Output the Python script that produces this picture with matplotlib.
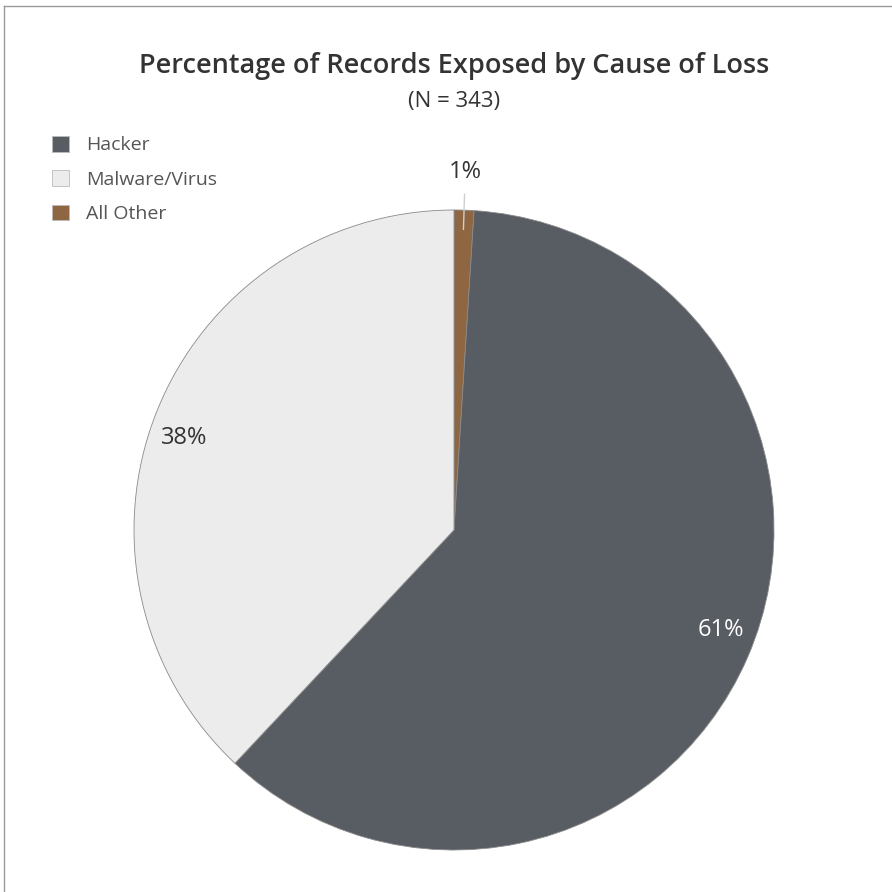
import numpy as np
import matplotlib
matplotlib.use("Agg")
import matplotlib.pyplot as plt
from matplotlib.patches import Patch
from matplotlib.lines import Line2D

labels = ["All Other", "Hacker", "Malware/Virus"]
values = [1, 61, 38]
colors = ["#8E6641", "#585C63", "#EBECEB"]
legend_order = ["Hacker", "Malware/Virus", "All Other"]
title = "Percentage of Records Exposed by Cause of Loss"
subtitle = "(N = 343)"

plt.rcParams['font.family'] = ['Open Sans', 'DejaVu Sans']

W = H = 892
fig = plt.figure(figsize=(8.92, 8.92), dpi=100)
ax = fig.add_axes([0, 0, 1, 1])
ax.set_xlim(0, W)
ax.set_ylim(0, H)
ax.axis('off')

cx, cy, R = 454, H - 530, 320
wedges, texts, autotexts = ax.pie(values, colors=colors, startangle=90, counterclock=False,
                                  center=(cx, cy), radius=R, autopct='%d%%', pctdistance=0.89,
                                  wedgeprops=dict(edgecolor='#8a8a8a', linewidth=0.6),
                                  textprops=dict(fontsize=17, color='#333333'))
ax.set_aspect('equal')
ax.set_xlim(0, W)
ax.set_ylim(0, H)

for w, t in zip(wedges, autotexts):
    mid = np.deg2rad((w.theta1 + w.theta2) / 2 + 2.8)
    t.set_position((cx + 0.89 * R * np.cos(mid), cy + 0.89 * R * np.sin(mid)))
    if w.get_facecolor()[0] < 0.45:
        t.set_color('white')

# small slice label outside with leader line
w0 = wedges[0]
mid = np.deg2rad((w0.theta1 + w0.theta2) / 2)
autotexts[0].set_position((cx + 1.12 * R * np.cos(mid), cy + 1.12 * R * np.sin(mid)))
ax.add_line(Line2D([cx + 0.94 * R * np.cos(mid), cx + 1.05 * R * np.cos(mid)],
                   [cy + 0.94 * R * np.sin(mid), cy + 1.05 * R * np.sin(mid)],
                   color='#cfcfcf', lw=1))

fig.text(454 / W, 1 - 66 / H, title, ha='center', va='center', fontsize=19.5,
         fontweight='semibold', color='#333333')
fig.text(454 / W, 1 - 101 / H, subtitle, ha='center', va='center', fontsize=16, color='#333333')

cmap = dict(zip(labels, colors))
handles = [Patch(facecolor=cmap[l], edgecolor='#bbbbbb', linewidth=0.6) for l in legend_order]
leg = fig.legend(handles, legend_order, loc='upper left', bbox_to_anchor=(52 / W, 1 - 136 / H),
                 frameon=False, fontsize=14, handlelength=0.85, handleheight=0.85,
                 labelspacing=0.82, handletextpad=0.9, borderaxespad=0, borderpad=0)
for t in leg.get_texts():
    t.set_color('#555555')

# border lines (top and left)
fig.add_artist(Line2D([3.5 / W, 1], [1 - 5.5 / H, 1 - 5.5 / H], transform=fig.transFigure,
                      color='#999999', lw=1))
fig.add_artist(Line2D([3.5 / W, 3.5 / W], [0, 1 - 5.5 / H], transform=fig.transFigure,
                      color='#999999', lw=1))

fig.savefig('out.png', dpi=100, facecolor='white')
